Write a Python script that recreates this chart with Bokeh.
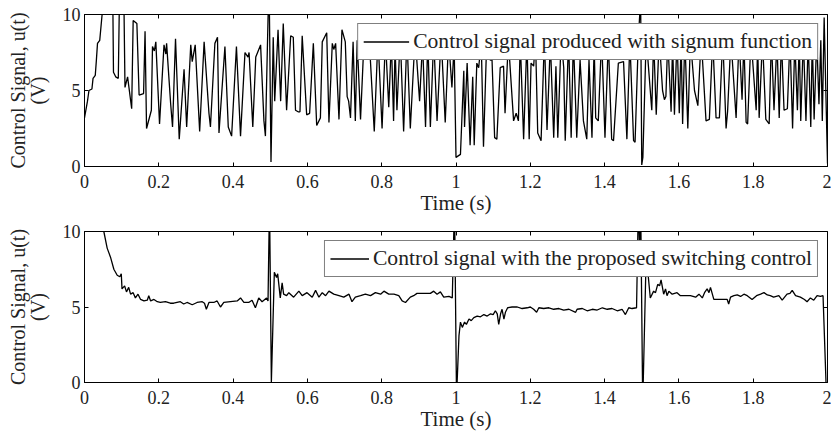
from bokeh.plotting import figure
from bokeh.layouts import column
from bokeh.models import LinearAxis, FixedTicker, Range1d, Legend, LegendItem
from bokeh.embed import file_html
from bokeh.resources import INLINE

# ---------------- data ----------------
x_ticks = [0, 0.2, 0.4, 0.6, 0.8, 1, 1.2, 1.4, 1.6, 1.8, 2]
x_tick_labels = ["0", "0.2", "0.4", "0.6", "0.8", "1", "1.2", "1.4", "1.6", "1.8", "2"]
y_ticks = [0, 5, 10]

x_label = "Time (s)"
y_label = "Control Signal, u(t)\n(V)"
label_top = "Control signal produced with signum function"
label_bottom = "Control signal with the proposed switching control"

# top panel: chattering control signal (signum function)
t_top = [
    0.000, 0.008, 0.012, 0.020, 0.023, 0.029, 0.032, 0.035, 0.041, 0.047, 0.055, 0.076, 0.078, 0.084, 0.091,
    0.094, 0.106, 0.109, 0.116, 0.127, 0.131, 0.141, 0.147, 0.159, 0.163, 0.167, 0.180, 0.183, 0.188, 0.192,
    0.202, 0.214, 0.219, 0.221, 0.232, 0.237, 0.245, 0.255, 0.268, 0.275, 0.286, 0.290, 0.298, 0.310, 0.322,
    0.335, 0.339, 0.351, 0.358, 0.362, 0.378, 0.387, 0.396, 0.409, 0.420, 0.432, 0.440, 0.443, 0.453, 0.461,
    0.474, 0.483, 0.487, 0.494, 0.497,
    0.502, 0.508, 0.512, 0.521, 0.528, 0.535, 0.544, 0.555, 0.562, 0.568, 0.575, 0.580, 0.586, 0.598, 0.606,
    0.616, 0.625, 0.635, 0.640, 0.652, 0.658, 0.667, 0.671, 0.676, 0.685, 0.693, 0.702, 0.707, 0.711, 0.716,
    0.723, 0.729, 0.734, 0.743, 0.752, 0.766, 0.780, 0.790, 0.801, 0.810, 0.819, 0.826, 0.832, 0.836, 0.841,
    0.850, 0.859, 0.868, 0.877, 0.890, 0.902, 0.910, 0.918, 0.924, 0.931, 0.940, 0.949, 0.960, 0.971, 0.980,
    0.989, 0.995,
    1.000, 1.012, 1.021, 1.023, 1.030, 1.038, 1.045, 1.049, 1.056, 1.061, 1.068, 1.074, 1.083, 1.092, 1.097,
    1.104, 1.110, 1.119, 1.128, 1.132, 1.141, 1.155, 1.162, 1.168, 1.173, 1.182, 1.191, 1.197, 1.202, 1.209,
    1.214, 1.220, 1.229, 1.238, 1.245, 1.254, 1.263, 1.269, 1.274, 1.283, 1.290, 1.294, 1.303, 1.310, 1.316,
    1.325, 1.334, 1.343, 1.352, 1.358, 1.366, 1.372, 1.376, 1.383, 1.392, 1.401, 1.410, 1.419, 1.424, 1.437,
    1.451, 1.460, 1.468, 1.478, 1.482, 1.491, 1.497,
    1.500, 1.503, 1.512, 1.527, 1.532, 1.539, 1.547, 1.556, 1.561, 1.565, 1.570, 1.579, 1.583, 1.588, 1.595,
    1.601, 1.606, 1.610, 1.616, 1.624, 1.631, 1.642, 1.651, 1.660, 1.673, 1.682, 1.691, 1.700, 1.709, 1.718,
    1.727, 1.731, 1.740, 1.754, 1.762, 1.770, 1.775, 1.781, 1.785, 1.794, 1.808, 1.812, 1.816, 1.825, 1.834,
    1.843, 1.849, 1.856, 1.864, 1.870, 1.876, 1.883, 1.892, 1.899, 1.906, 1.912, 1.919, 1.924, 1.928, 1.935,
    1.942, 1.948, 1.955, 1.959, 1.964, 1.971, 1.977, 1.982, 1.986, 1.991, 2.000,
]
u_top = [
    3.2, 4.3, 5.0, 5.1, 5.8, 6.0, 7.0, 8.1, 8.3, 9.9, 11.5, 11.5, 6.2, 5.9, 5.8,
    11.0, 11.0, 5.2, 5.9, 3.8, 9.6, 9.4, 4.7, 4.8, 8.9, 2.5, 3.7, 7.9, 7.6, 8.2,
    2.8, 8.0, 7.4, 8.1, 4.1, 2.6, 8.4, 1.8, 6.4, 2.6, 8.0, 6.9, 8.0, 2.3, 8.2,
    3.5, 2.6, 8.1, 8.5, 2.2, 7.9, 2.6, 2.0, 7.9, 2.0, 7.5, 7.2, 7.5, 2.6, 7.2,
    8.0, 3.0, 2.0, 9.7, 12.0,
    0.3, 8.5, 4.3, 9.0, 4.3, 9.4, 3.7, 8.6, 8.5, 3.7, 3.6, 3.6, 8.6, 3.4, 3.5,
    8.1, 2.7, 3.2, 8.2, 8.8, 2.9, 8.1, 7.7, 8.1, 3.1, 9.0, 8.2, 4.6, 4.3, 3.2,
    8.2, 3.0, 8.3, 3.1, 8.1, 8.6, 2.3, 8.5, 2.5, 8.4, 3.9, 8.3, 3.0, 8.0, 3.7,
    8.6, 2.3, 8.5, 2.5, 8.6, 4.3, 8.2, 2.6, 8.4, 2.6, 8.5, 3.0, 8.6, 2.9, 8.4,
    5.2, 8.0,
    0.6, 0.8, 6.3, 2.6, 6.8, 1.4, 5.9, 1.4, 6.8, 6.5, 8.2, 1.3, 8.5, 7.0, 7.0,
    1.9, 1.8, 6.5, 6.6, 3.5, 8.3, 3.0, 3.5, 3.0, 8.3, 1.8, 8.4, 1.8, 6.8, 6.6,
    8.4, 2.2, 1.7, 8.5, 2.4, 8.2, 1.9, 6.6, 1.9, 8.5, 6.5, 1.7, 8.4, 1.9, 8.4,
    1.9, 7.0, 3.0, 1.8, 7.0, 1.9, 8.0, 3.2, 3.0, 8.5, 1.9, 8.3, 1.8, 1.7, 6.8,
    6.9, 1.8, 8.3, 1.7, 1.6, 8.5, 11.0,
    0.1, 0.6, 8.5, 3.7, 8.4, 3.4, 8.5, 5.0, 4.4, 4.6, 8.4, 3.6, 8.2, 3.4, 8.5,
    3.5, 8.3, 2.8, 8.5, 2.5, 8.4, 5.0, 4.0, 8.5, 3.0, 3.1, 8.4, 3.2, 3.2, 8.5,
    2.5, 3.6, 8.4, 3.2, 8.5, 4.4, 8.3, 2.9, 2.8, 8.5, 3.7, 8.2, 3.2, 8.4, 3.1,
    2.8, 8.5, 3.7, 8.3, 3.2, 8.4, 3.7, 3.8, 8.5, 2.5, 8.3, 3.7, 8.4, 3.0, 8.5,
    3.0, 8.3, 2.6, 8.4, 3.1, 8.5, 4.1, 8.3, 3.0, 9.8, 0.2,
]

# bottom panel: proposed switching control
t_bot = [
    0.000, 0.052, 0.061, 0.070, 0.079, 0.088, 0.095, 0.099, 0.101, 0.108, 0.113, 0.119, 0.124, 0.131, 0.137,
    0.144, 0.151, 0.160, 0.169, 0.173, 0.178, 0.187, 0.196, 0.204, 0.218, 0.231, 0.240, 0.249, 0.258, 0.267,
    0.276, 0.290, 0.303, 0.317, 0.323, 0.328, 0.335, 0.348, 0.357, 0.366, 0.375, 0.393, 0.411, 0.420, 0.429,
    0.442, 0.451, 0.460, 0.469, 0.478, 0.490, 0.494, 0.498,
    0.503, 0.511, 0.517, 0.520, 0.527, 0.532, 0.536, 0.544, 0.550, 0.563, 0.577, 0.586, 0.599, 0.613, 0.622,
    0.631, 0.640, 0.649, 0.658, 0.671, 0.685, 0.698, 0.712, 0.720, 0.729, 0.743, 0.756, 0.770, 0.783, 0.797,
    0.806, 0.819, 0.833, 0.846, 0.855, 0.864, 0.877, 0.886, 0.895, 0.931, 0.940, 0.949, 0.958, 0.967, 0.981,
    0.990, 0.996,
    1.001, 1.003, 1.008, 1.012, 1.017, 1.023, 1.028, 1.035, 1.041, 1.048, 1.057, 1.066, 1.075, 1.084, 1.093,
    1.100, 1.106, 1.111, 1.115, 1.120, 1.124, 1.129, 1.133, 1.139, 1.151, 1.165, 1.178, 1.192, 1.200, 1.209,
    1.217, 1.223, 1.236, 1.250, 1.263, 1.277, 1.290, 1.304, 1.322, 1.326, 1.340, 1.353, 1.367, 1.380, 1.394,
    1.407, 1.420, 1.434, 1.447, 1.456, 1.465, 1.474, 1.486, 1.491, 1.494, 1.497,
    1.502, 1.504, 1.512, 1.523, 1.532, 1.537, 1.543, 1.548, 1.552, 1.559, 1.564, 1.568, 1.573, 1.582, 1.595,
    1.604, 1.631, 1.645, 1.654, 1.663, 1.669, 1.676, 1.681, 1.685, 1.694, 1.712, 1.730, 1.734, 1.739, 1.748,
    1.757, 1.766, 1.775, 1.784, 1.797, 1.809, 1.820, 1.829, 1.838, 1.846, 1.855, 1.869, 1.878, 1.891, 1.899,
    1.905, 1.914, 1.927, 1.938, 1.945, 1.954, 1.963, 1.972, 1.981, 1.988, 1.996,
]
u_bot = [
    14.0, 10.0, 8.9, 8.3, 7.5, 7.1, 7.0, 7.2, 6.2, 6.4, 6.0, 6.3, 5.85, 5.95, 5.6,
    5.85, 5.5, 5.4, 5.45, 5.75, 5.4, 5.5, 5.35, 5.3, 5.35, 5.25, 5.25, 5.3, 5.35, 5.2,
    5.3, 5.15, 5.3, 5.35, 5.25, 4.85, 5.3, 5.3, 5.4, 5.0, 5.3, 5.35, 5.4, 5.6, 5.3,
    5.3, 5.45, 4.95, 5.6, 5.35, 5.6, 5.4, 12.0,
    0.0, 7.3, 6.95, 7.2, 5.6, 6.6, 5.85, 5.75, 5.95, 5.65, 6.05, 5.75, 5.95, 5.65, 6.1,
    5.65, 5.95, 5.75, 6.05, 5.85, 5.75, 5.65, 5.85, 5.35, 5.65, 5.75, 5.85, 5.75, 5.95, 5.85,
    6.05, 5.85, 5.85, 5.75, 5.4, 5.3, 5.65, 5.75, 5.9, 5.9, 6.05, 5.85, 6.0, 5.65, 5.7,
    5.6, 12.0,
    0.0, 0.0, 3.1, 4.0, 3.65, 4.0, 3.85, 4.2, 4.1, 4.3, 4.4, 4.35, 4.5, 4.4, 4.55,
    4.5, 4.75, 4.55, 3.85, 4.55, 4.85, 4.2, 4.65, 4.95, 5.0, 5.0, 4.9, 4.95, 5.0, 4.85,
    4.65, 4.95, 4.9, 4.95, 4.85, 4.9, 4.8, 4.85, 4.65, 4.85, 4.9, 4.75, 4.85, 4.8, 4.95,
    4.85, 4.9, 4.75, 4.85, 4.5, 4.95, 4.9, 4.95, 12.0, 9.0, 12.0,
    0.0, 0.0, 8.5, 5.6, 6.05, 5.95, 6.5, 6.4, 6.8, 5.85, 6.2, 5.75, 6.05, 5.85, 5.95,
    5.75, 5.75, 5.65, 5.85, 5.6, 5.95, 6.2, 5.95, 6.3, 5.5, 5.5, 5.5, 5.2, 5.65, 5.75,
    5.8, 5.7, 5.85, 5.75, 5.5, 5.75, 5.85, 5.95, 5.8, 5.75, 5.65, 5.75, 5.45, 5.85, 5.9,
    6.1, 5.75, 5.65, 5.5, 5.35, 5.6, 5.45, 5.75, 5.7, 5.75, 0.0,
]

# ---------------- styling ----------------
FONT = "Liberation Serif"
TXT = "#222222"


def style_axis(ax, show_labels=True):
    ax.axis_line_color = "black"
    ax.major_tick_line_color = "black"
    ax.major_tick_in = 4
    ax.major_tick_out = 0
    ax.minor_tick_line_color = None
    if show_labels:
        ax.major_label_text_font = FONT
        ax.major_label_text_font_size = "18px"
        ax.major_label_text_color = TXT
    else:
        ax.major_label_text_font_size = "1px"
        ax.major_label_text_color = None
        ax.major_label_text_alpha = 0
        ax.major_label_standoff = 0
        ax.axis_line_color = None


def make_panel(t, u, label, fh, left, top, bottom, glyph_w):
    p = figure(width=831, frame_height=fh, x_range=Range1d(0, 2), y_range=Range1d(0, 10),
               output_backend="svg", toolbar_location=None,
               min_border_left=left, min_border_right=4, min_border_top=top, min_border_bottom=bottom)
    p.grid.visible = False
    p.outline_line_color = "black"
    p.outline_line_alpha = 1
    p.outline_line_width = 1
    p.background_fill_color = "white"
    p.border_fill_color = "white"

    xa = p.xaxis[0]
    ya = p.yaxis[0]
    xa.ticker = FixedTicker(ticks=x_ticks)
    xa.major_label_overrides = {k: v for k, v in zip(x_ticks, x_tick_labels)}
    ya.ticker = FixedTicker(ticks=y_ticks)
    style_axis(xa)
    style_axis(ya)
    xa.major_label_standoff = 8
    ya.major_label_standoff = 4
    xa.axis_label = x_label
    ya.axis_label = y_label
    for ax in (xa, ya):
        ax.axis_label_text_font = FONT
        ax.axis_label_text_font_style = "normal"
        ax.axis_label_text_color = TXT
    xa.axis_label_text_font_size = "21px"
    ya.axis_label_text_font_size = "20px"
    ya.axis_label_text_line_height = 0.9
    xa.axis_label_standoff = 0
    ya.axis_label_standoff = 11

    ta = LinearAxis(ticker=FixedTicker(ticks=x_ticks))
    ra = LinearAxis(ticker=FixedTicker(ticks=y_ticks))
    style_axis(ta, False)
    style_axis(ra, False)
    p.add_layout(ta, "above")
    p.add_layout(ra, "right")

    r = p.line(t, u, line_color="black", line_width=1.3)
    leg = Legend(items=[LegendItem(label=label, renderers=[r])], location="top_right")
    leg.margin = 9
    leg.padding = 5
    leg.spacing = 0
    leg.border_line_color = "black"
    leg.border_line_width = 1
    leg.background_fill_color = "white"
    leg.background_fill_alpha = 1
    leg.label_text_font = FONT
    leg.label_text_font_size = "21.6px"
    leg.label_text_color = TXT
    leg.glyph_width = glyph_w
    leg.glyph_height = 23
    leg.label_height = 23
    leg.label_standoff = 4
    p.add_layout(leg)
    return p


p1 = make_panel(t_top, u_top, label_top, 152, 82, 14, 50, 46)
p2 = make_panel(t_bot, u_bot, label_bottom, 151, 84, 14, 50, 39)

layout = column(p1, p2, spacing=0)

open("out.html", "w").write(file_html(layout, INLINE))
